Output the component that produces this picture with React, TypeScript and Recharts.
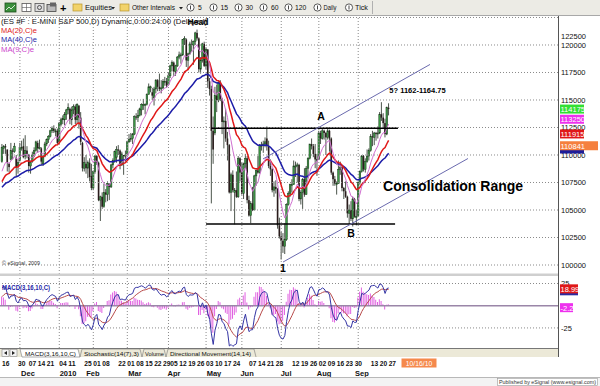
import React from "react";
import {
  ComposedChart,
  Bar,
  Line,
  XAxis,
  YAxis,
  ReferenceLine,
  ReferenceDot,
} from "recharts";

const FONT = "'Liberation Sans', Arial, Helvetica, sans-serif";

// closes before the visible window (Sep 18 - Nov 13 2009), only used to seed the averages
const warmupCloses = [
  1066, 1062, 1069, 1059, 1048, 1043, 1061, 1058, 1055,
  1027, 1023, 1038, 1052, 1055, 1063, 1070, 1074, 1071, 1090, 1094, 1085, 1095, 1090, 1079, 1090, 1077, 1064, 1061, 1041, 1065, 1034,
  1040, 1043, 1044, 1064, 1067, 1091, 1091, 1097, 1086, 1091,
];

// daily ES bars, Nov 16 2009 - Sep 27 2010
const opens = [
  1094, 1106, 1108, 1105, 1092, 1096, 1104, 1103, 1097, 1090,
  1095, 1107, 1108, 1099, 1104, 1100, 1090, 1094, 1101, 1104, 1111, 1106, 1106, 1092, 1099, 1110, 1114, 1117, 1122, 1124, 1121, 1122,
  1112, 1128, 1132, 1132, 1137, 1141, 1142, 1132, 1141, 1144, 1132, 1145, 1134, 1111, 1088, 1092, 1088, 1093, 1081,
  1070, 1085, 1099, 1093, 1059, 1062, 1053, 1066, 1064, 1074, 1071, 1091, 1095, 1098, 1105, 1104, 1091, 1100, 1099,
  1101, 1112, 1114, 1115, 1119, 1135, 1134, 1136, 1141, 1146, 1146, 1146, 1155, 1162, 1157, 1152, 1160, 1168, 1162, 1160, 1161, 1167, 1167,
  1164, 1172, 1181, 1184, 1176, 1181, 1189, 1191, 1191, 1205, 1205, 1186, 1192, 1201, 1200, 1203, 1211, 1206, 1178, 1186, 1201,
  1181, 1196, 1167, 1160, 1122, 1120, 1154, 1150, 1166, 1151, 1130, 1131, 1115, 1109, 1066, 1082, 1066, 1068, 1062, 1097,
  1084, 1065, 1092, 1097, 1059, 1045, 1056, 1050, 1081, 1086, 1084, 1109, 1109, 1110, 1115, 1108, 1090, 1087, 1068, 1071, 1069, 1036,
  1026, 1022, 1017, 1023, 1055, 1065, 1073, 1073, 1090, 1090, 1091, 1060, 1066, 1078, 1064, 1088, 1097, 1110, 1108, 1101, 1096,
  1096, 1120, 1115, 1122, 1120, 1116, 1122, 1115, 1084, 1078, 1074, 1074, 1087, 1089, 1070, 1067, 1062, 1047, 1050, 1042, 1060, 1044,
  1045, 1075, 1085, 1099, 1087, 1094, 1099, 1104, 1117, 1116, 1120, 1119, 1120, 1137, 1134, 1129, 1119, 1143,
];
const highs = [
  1110, 1109, 1110, 1105, 1093, 1111, 1106, 1111, 1100, 1096,
  1111, 1113, 1115, 1118, 1108, 1101, 1095, 1103, 1107, 1113, 1113, 1114, 1107, 1100, 1112, 1115, 1118, 1123, 1126, 1127, 1124, 1124,
  1130, 1134, 1136, 1139, 1142, 1147, 1143, 1144, 1146, 1146, 1147, 1145, 1139, 1112, 1098, 1100, 1095, 1097, 1092,
  1086, 1100, 1100, 1094, 1063, 1066, 1074, 1069, 1076, 1074, 1092, 1097, 1104, 1108, 1109, 1105, 1103, 1100, 1104,
  1113, 1119, 1120, 1120, 1136, 1138, 1141, 1143, 1147, 1151, 1147, 1156, 1165, 1163, 1161, 1162, 1169, 1169, 1174, 1168, 1169, 1171, 1170,
  1175, 1182, 1186, 1185, 1182, 1190, 1194, 1193, 1205, 1208, 1206, 1193, 1203, 1205, 1204, 1212, 1214, 1207, 1189, 1202, 1203,
  1198, 1196, 1170, 1163, 1135, 1162, 1164, 1167, 1168, 1152, 1135, 1142, 1121, 1110, 1084, 1086, 1070, 1085, 1099, 1098,
  1093, 1093, 1101, 1099, 1063, 1058, 1071, 1082, 1087, 1099, 1110, 1112, 1113, 1116, 1126, 1113, 1096, 1088, 1076, 1077, 1070, 1043,
  1030, 1029, 1038, 1056, 1067, 1074, 1078, 1095, 1094, 1093, 1092, 1068, 1079, 1088, 1090, 1098, 1110, 1115, 1110, 1110, 1101,
  1122, 1122, 1124, 1123, 1121, 1125, 1123, 1116, 1085, 1081, 1076, 1095, 1094, 1090, 1071, 1076, 1063, 1055, 1058, 1062, 1061, 1050,
  1076, 1086, 1100, 1100, 1097, 1105, 1106, 1119, 1122, 1121, 1121, 1126, 1139, 1148, 1138, 1133, 1144, 1147,
];
const lows = [
  1093, 1101, 1101, 1085, 1084, 1095, 1096, 1102, 1080, 1083,
  1094, 1104, 1097, 1096, 1097, 1084, 1083, 1093, 1098, 1103, 1102, 1105, 1091, 1090, 1098, 1108, 1111, 1116, 1120, 1120, 1117, 1110,
  1110, 1126, 1128, 1127, 1132, 1137, 1128, 1127, 1137, 1128, 1129, 1124, 1109, 1085, 1085, 1083, 1079, 1076, 1068,
  1068, 1083, 1091, 1058, 1040, 1051, 1052, 1057, 1058, 1059, 1070, 1088, 1093, 1093, 1100, 1087, 1090, 1082, 1094,
  1100, 1111, 1112, 1110, 1118, 1132, 1130, 1135, 1136, 1141, 1137, 1145, 1155, 1157, 1150, 1145, 1156, 1158, 1158, 1156, 1160, 1163, 1161,
  1163, 1170, 1176, 1172, 1172, 1180, 1187, 1183, 1190, 1200, 1180, 1177, 1191, 1194, 1182, 1200, 1204, 1175, 1174, 1184, 1180,
  1178, 1161, 1154, 1056, 1092, 1118, 1139, 1148, 1149, 1119, 1106, 1112, 1095, 1065, 1049, 1066, 1037, 1061, 1061, 1076,
  1064, 1060, 1088, 1056, 1044, 1038, 1049, 1050, 1072, 1083, 1083, 1104, 1102, 1107, 1104, 1088, 1081, 1066, 1062, 1065, 1033, 1024,
  1005, 1011, 1010, 1022, 1054, 1062, 1066, 1073, 1080, 1075, 1058, 1055, 1051, 1062, 1064, 1079, 1096, 1105, 1098, 1088, 1081,
  1096, 1110, 1114, 1114, 1100, 1114, 1103, 1082, 1072, 1072, 1064, 1074, 1082, 1067, 1060, 1061, 1043, 1037, 1040, 1035, 1043, 1036,
  1044, 1073, 1084, 1085, 1084, 1093, 1095, 1103, 1108, 1109, 1113, 1115, 1119, 1131, 1124, 1116, 1118, 1136,
];
const closes = [
  1107, 1108, 1107, 1093, 1089, 1104, 1103, 1108, 1089, 1093,
  1107, 1107, 1098, 1104, 1101, 1090, 1093, 1100, 1104, 1112, 1106, 1107, 1094, 1098, 1110, 1114, 1117, 1122, 1124, 1122, 1122, 1111,
  1129, 1132, 1133, 1137, 1141, 1143, 1132, 1141, 1144, 1132, 1146, 1134, 1112, 1088, 1093, 1088, 1093, 1080, 1070,
  1085, 1099, 1093, 1059, 1062, 1053, 1066, 1064, 1074, 1071, 1091, 1095, 1103, 1105, 1104, 1091, 1101, 1099, 1100,
  1112, 1114, 1115, 1119, 1135, 1134, 1136, 1142, 1146, 1146, 1146, 1155, 1162, 1162, 1154, 1160, 1168, 1162, 1160, 1161, 1167, 1167, 1163,
  1172, 1181, 1184, 1176, 1181, 1189, 1191, 1191, 1205, 1206, 1186, 1192, 1201, 1200, 1203, 1211, 1206, 1178, 1186, 1201, 1181,
  1196, 1167, 1160, 1122, 1105, 1154, 1150, 1166, 1151, 1130, 1131, 1115, 1109, 1066, 1082, 1068, 1068, 1062, 1097, 1084,
  1065, 1092, 1097, 1059, 1045, 1056, 1050, 1081, 1086, 1084, 1109, 1109, 1110, 1112, 1108, 1090, 1087, 1068, 1071, 1069, 1036, 1026,
  1022, 1017, 1023, 1055, 1065, 1073, 1073, 1090, 1090, 1091, 1060, 1066, 1078, 1064, 1088, 1097, 1110, 1108, 1101, 1096, 1096,
  1120, 1115, 1122, 1120, 1116, 1122, 1115, 1084, 1078, 1074, 1074, 1087, 1089, 1070, 1067, 1062, 1047, 1050, 1042, 1060, 1044, 1044,
  1075, 1085, 1099, 1087, 1094, 1099, 1104, 1117, 1116, 1120, 1119, 1120, 1137, 1134, 1129, 1119, 1143, 1141.75,
];

// date axis (bar index -> label)
const dayTicks = [
  { i: 0, t: "16" }, { i: 9, t: "30" }, { i: 15, t: "07" }, { i: 20, t: "14" }, { i: 25, t: "21" },
  { i: 32, t: "04" }, { i: 37, t: "11" }, { i: 46, t: "25" }, { i: 51, t: "01" }, { i: 56, t: "08" },
  { i: 65, t: "22" }, { i: 70, t: "01" }, { i: 75, t: "08" }, { i: 80, t: "15" }, { i: 85, t: "22" },
  { i: 90, t: "29" }, { i: 94, t: "05" }, { i: 99, t: "12" }, { i: 104, t: "19" }, { i: 109, t: "26" },
  { i: 114, t: "03" }, { i: 119, t: "10" }, { i: 124, t: "17" }, { i: 129, t: "24" }, { i: 138, t: "07" },
  { i: 143, t: "14" }, { i: 148, t: "21" }, { i: 153, t: "28" }, { i: 162, t: "12" }, { i: 167, t: "19" },
  { i: 172, t: "26" }, { i: 177, t: "02" }, { i: 182, t: "09" }, { i: 187, t: "16" }, { i: 192, t: "23" },
  { i: 197, t: "30" }, { i: 206, t: "13" }, { i: 211, t: "20" }, { i: 216, t: "27" },
];
const monthTicks = [
  { i: 14.5, t: "Dec" }, { i: 36.9, t: "2010" }, { i: 50.8, t: "Feb" }, { i: 74.3, t: "Mar" },
  { i: 96.1, t: "Apr" }, { i: 118.4, t: "May" }, { i: 136.9, t: "Jun" }, { i: 158.7, t: "Jul" },
  { i: 179.9, t: "Aug" }, { i: 201.1, t: "Sep" },
];
const monthStarts = [10, 32, 51, 70, 93, 114, 134, 156, 177, 199];

const priceLevels = [1000, 1025, 1050, 1075, 1100, 1125, 1150, 1175, 1200, 1225];
const macdLevels = [25, -25];

// last-value flags on the right scale
const priceFlags = [
  { key: "ma40", v: 1105.45 },
  { key: "cursor", v: 1108.41 },
  { key: "ma20", v: 1119.15 },
  { key: "ma9", v: 1132.5 },
  { key: "last", v: 1141.75 },
];
const macdFlags = [
  { key: "macd", v: 16.79 },
  { key: "sig", v: 18.99 },
  { key: "hist", v: -2.2 },
];

// drawn objects: channel, range lines, labels
const channelLines = [
  [{ x: 145.8, y: 1096.4 }, { x: 239.1, y: 1182.3 }],
  [{ x: 157.0, y: 1002.7 }, { x: 260.3, y: 1096.8 }],
];
const rangeLines = [
  [{ x: 116.8, y: 1124.3 }, { x: 221.2, y: 1124.3 }],
  [{ x: 114.0, y: 1037.3 }, { x: 219.6, y: 1037.3 }],
];
const notes = [
  { x: 109.5, y: 1220.5, text: "Head", size: 8.5 },
  { x: 178.2, y: 1135.9, text: "A", size: 10.5 },
  { x: 195.0, y: 1029.1, text: "B", size: 10.5 },
  { x: 157.0, y: 997.3, text: "1", size: 10.5 },
  { x: 232.1, y: 1158.8, text: "5? 1162-1164.75", size: 7.5 },
  { x: 252.0, y: 1071.4, text: "Consolidation Range", size: 14 },
];

// flags drawn without text are the ones hidden under a neighbour in the original
const FLAG_STYLE: Record<string, { bg: string; w: number; label: boolean }> = {
  ma40: { bg: "#1c1c9a", w: 24, label: false },
  cursor: { bg: "#f5803e", w: 38, label: true },
  ma20: { bg: "#e01818", w: 24, label: true },
  ma9: { bg: "#ee30ee", w: 24, label: true },
  last: { bg: "#33e033", w: 24, label: true },
  macd: { bg: "#2a2aa0", w: 18, label: false },
  sig: { bg: "#e01818", w: 18, label: true },
  hist: { bg: "#ee30ee", w: 13, label: true },
};

const X_DOMAIN: [number, number] = [-1.117, 310.61];

const ema = (src: number[], n: number) => {
  const k = 2 / (n + 1);
  const out: number[] = [];
  src.forEach((v, i) => out.push(i === 0 ? v : out[i - 1] + k * (v - out[i - 1])));
  return out;
};

const W = warmupCloses.length;
const allCloses = [...warmupCloses, ...closes];
const ma9 = ema(allCloses, 9);
const ma20 = ema(allCloses, 20);
const ma40 = ema(allCloses, 40);
const fast = ema(allCloses, 3);
const slow = ema(allCloses, 16);
const macdAll = fast.map((v, i) => v - slow[i]);
const sigAll = ema(macdAll, 10);

const rows = closes.map((c, i) => ({
  i,
  o: opens[i],
  h: highs[i],
  l: lows[i],
  c,
  ma9: ma9[W + i],
  ma20: ma20[W + i],
  ma40: ma40[W + i],
  macd: macdAll[W + i],
  sig: sigAll[W + i],
  hist: macdAll[W + i] - sigAll[W + i],
}));

function Candle(props: any) {
  const { x, width, payload } = props;
  let { y, height } = props;
  if (!payload || y == null || height == null) return null;
  if (height < 0) {
    y += height;
    height = -height;
  }
  const { o, h, l, c } = payload;
  const k = h > l ? height / (h - l) : 0;
  const py = (v: number) => y + (h - v) * k;
  const up = c >= o;
  const top = py(Math.max(o, c));
  const bh = Math.max(1, py(Math.min(o, c)) - top);
  const cx = x + width / 2;
  return (
    <g>
      <line x1={cx} x2={cx} y1={y} y2={y + height} stroke="#1e2a1e" strokeWidth={0.8} />
      <rect
        x={x}
        y={top}
        width={width}
        height={bh}
        fill={up ? "#3d9d48" : "#2a1c1c"}
        stroke={up ? "#1d3d1d" : "none"}
        strokeWidth={0.5}
      />
    </g>
  );
}

function FlagTick(flags: { key: string; v: number }[], fmt: (v: number) => string, minY: number) {
  return function Tick(props: any) {
    const { x, y, payload } = props;
    const v = payload.value;
    const f = flags.find((p) => Math.abs(p.v - v) < 1e-6);
    if (f) {
      const st = FLAG_STYLE[f.key];
      return (
        <g>
          <rect x={x} y={y - 4.5} width={st.w} height={9} fill={st.bg} />
          {st.label && (
            <text x={x + 0.5} y={y + 3} fontSize={7.5} fill="#fff" fontFamily={FONT}>
              {fmt(f.v)}
            </text>
          )}
        </g>
      );
    }
    return (
      <text x={x + 1} y={Math.max(y, minY) + 2.7} fontSize={7.5} fill="#111" fontFamily={FONT}>
        {fmt(v)}
      </text>
    );
  };
}

const PriceTick = FlagTick(priceFlags, (v) => (v * 100).toFixed(0), 20);
const MacdTick = FlagTick(macdFlags, (v) => String(v), 0);

function DateTick(props: any) {
  const { x, y, payload } = props;
  const v = payload.value;
  const d = dayTicks.find((t) => t.i === v);
  if (d) {
    return (
      <text x={x} y={y + 18} fontSize={7} fontWeight="bold" fill="#111" fontFamily={FONT} textLength={7.4} lengthAdjust="spacingAndGlyphs">
        {d.t}
      </text>
    );
  }
  const m = monthTicks.find((t) => t.i === v);
  if (!m) return null;
  return (
    <text x={x} y={y + 28} fontSize={7.5} fontWeight="bold" fill="#111" fontFamily={FONT} textAnchor="middle">
      {m.t}
    </text>
  );
}

function NoteShape(text: string, size: number) {
  return function Shape(p: any) {
    return (
      <text
        x={p.cx}
        y={p.cy}
        fontSize={size}
        fontWeight="bold"
        fill="#000"
        fontFamily={FONT}
        textAnchor="middle"
        dominantBaseline="central"
      >
        {text}
      </text>
    );
  };
}

function ClockIcon({ cx }: { cx: number }) {
  return (
    <g>
      <circle cx={cx} cy={7.5} r={3.6} fill="#fff" stroke="#333" strokeWidth={0.8} />
      <line x1={cx} x2={cx} y1={5.5} y2={9.5} stroke="#333" strokeWidth={0.9} />
    </g>
  );
}

function Overlay() {
  const tb = { fontSize: 6.8, fill: "#111", fontFamily: FONT };
  return (
    <svg width={600} height={386} style={{ position: "absolute", left: 0, top: 0, pointerEvents: "none" }}>
      {/* toolbar */}
      <rect x={0} y={0} width={600} height={15} fill="#ecebe5" />
      <line x1={0} x2={600} y1={15.5} y2={15.5} stroke="#a8a8a8" />
      <rect x={5} y={3} width={11} height={9} fill="#3b8f3b" stroke="#1d4d1d" strokeWidth={0.8} />
      <polyline points="6,10 9,7 11,9 15,5" fill="none" stroke="#fff" strokeWidth={0.8} />
      <rect x={22} y={3.5} width={9} height={8} fill="#fff" stroke="#555" strokeWidth={0.8} />
      <line x1={22} x2={31} y1={7.5} y2={7.5} stroke="#555" strokeWidth={0.6} />
      <line x1={26.5} x2={26.5} y1={3.5} y2={11.5} stroke="#555" strokeWidth={0.6} />
      <rect x={35} y={3.5} width={9} height={8} fill="#ddd" stroke="#555" strokeWidth={0.8} />
      <circle cx={39.5} cy={7.5} r={2} fill="none" stroke="#333" strokeWidth={0.8} />
      <rect x={47} y={4.5} width={9} height={7} fill="#bbb" stroke="#444" strokeWidth={0.8} />
      <rect x={50} y={2.5} width={6} height={4} fill="#666" />
      <text x={60} y={11.5} fontSize={11} fontWeight="bold" fill="#000" fontFamily={FONT}>+</text>
      <rect x={73} y={4} width={9} height={7} fill="#f2d36b" stroke="#b8962e" strokeWidth={0.7} />
      <text x={85} y={10} {...tb} textLength={27} lengthAdjust="spacingAndGlyphs">Equities</text>
      <polygon points="111,7 115,7 113,9.5" fill="#222" />
      <rect x={120} y={4} width={9} height={7} fill="#f2d36b" stroke="#b8962e" strokeWidth={0.7} />
      <text x={132} y={10} {...tb} textLength={43} lengthAdjust="spacingAndGlyphs">Other Intervals</text>
      <polygon points="179,7 183,7 181,9.5" fill="#222" />
      <ClockIcon cx={190.5} />
      <text x={198} y={10} {...tb}>5</text>
      <ClockIcon cx={213.5} />
      <text x={220.5} y={10} {...tb}>15</text>
      <ClockIcon cx={238.5} />
      <text x={245.5} y={10} {...tb}>30</text>
      <ClockIcon cx={263.5} />
      <text x={271} y={10} {...tb}>60</text>
      <ClockIcon cx={288.5} />
      <text x={295} y={10} {...tb}>120</text>
      <ClockIcon cx={317.5} />
      <text x={323.5} y={10} {...tb} textLength={13} lengthAdjust="spacingAndGlyphs">Daily</text>
      <ClockIcon cx={349} />
      <text x={355} y={10} {...tb} textLength={13} lengthAdjust="spacingAndGlyphs">Tick</text>
      <line x1={372.5} x2={372.5} y1={1} y2={14} stroke="#b0b0b0" />

      {/* title and legend */}
      <text x={1} y={23.6} fontSize={7.8} fill="#111" fontFamily={FONT} textLength={206} lengthAdjust="spacingAndGlyphs">
        {"(ES #F : E-MINI S&P 500,D) Dynamic,0:00:24:00 (Delayed)"}
      </text>
      <text x={1} y={33.2} fontSize={7.6} fill="#e01818" fontFamily={FONT} textLength={36} lengthAdjust="spacingAndGlyphs">MA(20,C)e</text>
      <text x={1} y={42.4} fontSize={7.6} fill="#1c1ca8" fontFamily={FONT} textLength={36} lengthAdjust="spacingAndGlyphs">MA(40,C)e</text>
      <text x={1} y={52.2} fontSize={7.6} fill="#cc44cc" fontFamily={FONT} textLength={33} lengthAdjust="spacingAndGlyphs">MA(9,C)e</text>

      {/* panel separators and scale edge */}
      <text x={2} y={265} fontSize={5} fill="#333" fontFamily={FONT} textLength={38} lengthAdjust="spacingAndGlyphs">
        {"\u00a9 eSignal, 2009"}
      </text>
      <rect x={0} y={273.5} width={558} height={2.5} fill="#cfcfcf" />
      <line x1={558.5} x2={558.5} y1={16} y2={357} stroke="#555" />
      <text x={2} y={289.5} fontSize={7} fontWeight="bold" fill="#2323a6" fontFamily={FONT} textLength={48} lengthAdjust="spacingAndGlyphs">
        MACD(3,16,10,C)
      </text>

      {/* study tabs */}
      <rect x={0} y={348} width={558} height={9} fill="#ece9d8" />
      <line x1={0} x2={558} y1={348.5} y2={348.5} stroke="#777" />
      <rect x={2} y={349.5} width={7} height={7} fill="#f4f4f4" stroke="#888" strokeWidth={0.6} />
      <polygon points="7,351 7,355 4,353" fill="#222" />
      <rect x={10} y={349.5} width={7} height={7} fill="#f4f4f4" stroke="#888" strokeWidth={0.6} />
      <polygon points="12,351 12,355 15,353" fill="#222" />
      <polygon points="20,349 78,349 80,357 22,357" fill="#fff" stroke="#777" strokeWidth={0.6} />
      <polyline points="80,357 82,349 140,349 142,357" fill="none" stroke="#777" strokeWidth={0.6} />
      <polyline points="142,357 144,349 164,349 166,357" fill="none" stroke="#777" strokeWidth={0.6} />
      <polyline points="166,357 168,349 254,349 256,357" fill="none" stroke="#777" strokeWidth={0.6} />
      <text x={25} y={355.5} fontSize={6.2} fill="#111" fontFamily={FONT} textLength={51} lengthAdjust="spacingAndGlyphs">MACD(3,16,10,C)</text>
      <text x={84} y={355.5} fontSize={6.2} fill="#111" fontFamily={FONT} textLength={55} lengthAdjust="spacingAndGlyphs">Stochastic(14(7),3)</text>
      <text x={145} y={355.5} fontSize={6.2} fill="#111" fontFamily={FONT} textLength={19} lengthAdjust="spacingAndGlyphs">Volume</text>
      <text x={170} y={355.5} fontSize={6.2} fill="#111" fontFamily={FONT} textLength={81} lengthAdjust="spacingAndGlyphs">Directional Movement(14,14)</text>

      {/* cursor date */}
      <rect x={401.5} y={358.5} width={35} height={9} fill="#f5894c" />
      <text x={419} y={365.7} fontSize={6.8} fill="#fff" fontFamily={FONT} textAnchor="middle">10/16/10</text>

      {/* status strip */}
      <line x1={0} x2={600} y1={377.5} y2={377.5} stroke="#b8b8b8" />
      <rect x={0} y={378} width={600} height={8} fill="#f3f3f3" />
      <rect x={497.5} y={378.5} width={100} height={7} fill="#fff" stroke="#999" strokeWidth={0.6} />
      <text x={499} y={384.2} fontSize={5.3} fill="#333" fontFamily={FONT} textLength={97} lengthAdjust="spacingAndGlyphs">
        Published by eSignal (www.esignal.com)
      </text>
    </svg>
  );
}

export default function App() {
  const priceTicks = [...priceLevels, ...priceFlags.map((f) => f.v)];
  const macdTicks = [...macdLevels, ...macdFlags.map((f) => f.v)];
  const dateTicks = [...dayTicks.map((d) => d.i), ...monthTicks.map((m) => m.i)];
  return (
    <div style={{ position: "fixed", left: 0, top: 0, width: 600, height: 386, background: "#fff", overflow: "hidden" }}>
      <div style={{ position: "absolute", left: 0, top: 16 }}>
        <ComposedChart width={600} height={258} data={rows} margin={{ top: 0, right: 0, bottom: 0, left: 0 }}>
          <XAxis type="number" dataKey="i" domain={X_DOMAIN} allowDataOverflow hide />
          <YAxis
            orientation="right"
            width={42}
            domain={[991.82, 1226.36]}
            allowDataOverflow
            ticks={priceTicks}
            interval={0}
            tick={<PriceTick />}
            axisLine={false}
            tickLine={false}
            tickSize={0}
            tickMargin={2}
          />
          {priceLevels.map((v) => (
            <ReferenceLine key={"p" + v} y={v} stroke="#8a8a8a" strokeDasharray="1 2" />
          ))}
          {monthStarts.map((v) => (
            <ReferenceLine key={"m" + v} x={v} stroke="#8a8a8a" strokeDasharray="1 2" />
          ))}
          <Bar dataKey={(d: any) => [d.l, d.h]} barSize={2} shape={(p: any) => <Candle {...p} />} isAnimationActive={false} />
          <Line dataKey="ma40" stroke="#1c1ca8" strokeWidth={1.5} dot={false} isAnimationActive={false} />
          <Line dataKey="ma20" stroke="#e01818" strokeWidth={1.5} dot={false} isAnimationActive={false} />
          <Line dataKey="ma9" stroke="#d070d0" strokeWidth={1} dot={false} isAnimationActive={false} />
          {rangeLines.map((seg, k) => (
            <ReferenceLine key={"r" + k} segment={seg} stroke="#000" strokeWidth={1.5} />
          ))}
          {channelLines.map((seg, k) => (
            <ReferenceLine key={"c" + k} segment={seg} stroke="#6a6aae" strokeWidth={1} />
          ))}
          {notes.map((n) => (
            <ReferenceDot key={n.text} x={n.x} y={n.y} r={0} shape={NoteShape(n.text, n.size)} />
          ))}
        </ComposedChart>
      </div>
      <div style={{ position: "absolute", left: 0, top: 276 }}>
        <ComposedChart width={600} height={104} data={rows} margin={{ top: 0, right: 0, bottom: 0, left: 0 }}>
          <XAxis
            type="number"
            dataKey="i"
            domain={X_DOMAIN}
            allowDataOverflow
            ticks={dateTicks}
            interval={0}
            tick={<DateTick />}
            axisLine={false}
            tickLine={false}
            tickSize={0}
            tickMargin={0}
            height={32}
          />
          <YAxis
            orientation="right"
            width={42}
            domain={[-47.6, 33.45]}
            allowDataOverflow
            ticks={macdTicks}
            interval={0}
            tick={<MacdTick />}
            axisLine={false}
            tickLine={false}
            tickSize={0}
            tickMargin={2}
          />
          {macdLevels.map((v) => (
            <ReferenceLine key={"q" + v} y={v} stroke="#8a8a8a" strokeDasharray="1 2" />
          ))}
          {monthStarts.map((v) => (
            <ReferenceLine key={"n" + v} x={v} stroke="#8a8a8a" strokeDasharray="1 2" />
          ))}
          <ReferenceLine y={0} stroke="#9a86a8" strokeWidth={1.5} />
          <Bar dataKey="hist" barSize={1} fill="#e060e0" isAnimationActive={false} />
          <Line dataKey="sig" stroke="#b84a4a" strokeWidth={1} dot={false} isAnimationActive={false} />
          <Line dataKey="macd" stroke="#3434a4" strokeWidth={1} dot={false} isAnimationActive={false} />
        </ComposedChart>
      </div>
      <Overlay />
    </div>
  );
}
